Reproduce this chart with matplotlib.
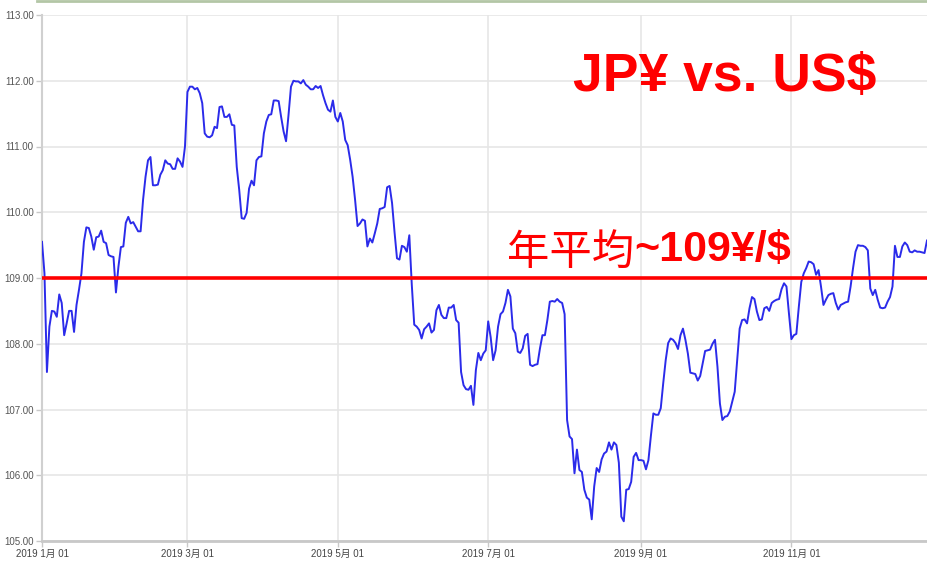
import pandas as pd
import matplotlib
matplotlib.use('Agg')
import matplotlib.pyplot as plt
from matplotlib.lines import Line2D

# Tipo de cambio diario JPY/USD 2019, un valor por día desde el 1 de enero
ene = [109.55, 109.07, 107.57, 108.26, 108.50, 108.49, 108.41, 108.75, 108.62, 108.13,
       108.31, 108.50, 108.50, 108.18, 108.59, 108.82, 109.07, 109.55, 109.77, 109.76,
       109.63, 109.43, 109.62, 109.63, 109.72, 109.55, 109.53, 109.35, 109.33, 109.32,
       108.78]
feb = [109.17, 109.47, 109.48, 109.84, 109.93, 109.83, 109.85, 109.78, 109.71, 109.71,
       110.19, 110.54, 110.79, 110.84, 110.41, 110.41, 110.42, 110.57, 110.64, 110.79,
       110.74, 110.73, 110.66, 110.66, 110.82, 110.77, 110.69, 111.00]
mar = [111.83, 111.91, 111.91, 111.87, 111.89, 111.81, 111.66, 111.20, 111.15, 111.14,
       111.17, 111.30, 111.28, 111.60, 111.61, 111.45, 111.45, 111.49, 111.33, 111.32,
       110.69, 110.34, 109.91, 109.90, 109.99, 110.36, 110.48, 110.41, 110.79, 110.84,
       110.85]
abr = [111.20, 111.38, 111.48, 111.49, 111.70, 111.70, 111.69, 111.45, 111.23, 111.08,
       111.48, 111.91, 112.00, 111.99, 111.99, 111.96, 112.01, 111.94, 111.91, 111.87,
       111.87, 111.92, 111.89, 111.92, 111.78, 111.66, 111.56, 111.53, 111.70, 111.45]
may = [111.38, 111.51, 111.38, 111.10, 111.02, 110.80, 110.54, 110.19, 109.79, 109.83,
       109.89, 109.87, 109.48, 109.60, 109.54, 109.68, 109.83, 110.05, 110.06, 110.08,
       110.38, 110.40, 110.14, 109.70, 109.30, 109.28, 109.49, 109.47, 109.40, 109.65,
       108.90]
jun = [108.29, 108.26, 108.21, 108.08, 108.22, 108.26, 108.31, 108.17, 108.21, 108.51,
       108.59, 108.44, 108.39, 108.39, 108.55, 108.55, 108.59, 108.36, 108.32, 107.57,
       107.37, 107.31, 107.30, 107.36, 107.07, 107.60, 107.86, 107.75, 107.85, 107.90]
jul = [108.34, 108.10, 107.75, 107.90, 108.26, 108.45, 108.49, 108.62, 108.82, 108.72,
       108.23, 108.16, 107.88, 107.86, 107.93, 108.12, 108.15, 107.68, 107.66, 107.68,
       107.69, 107.93, 108.13, 108.13, 108.36, 108.64, 108.65, 108.64, 108.68, 108.64,
       108.62]
ago = [108.45, 106.84, 106.59, 106.55, 106.03, 106.39, 106.08, 106.05, 105.78, 105.66,
       105.63, 105.33, 105.83, 106.11, 106.05, 106.24, 106.33, 106.36, 106.50, 106.39,
       106.50, 106.46, 106.19, 105.37, 105.30, 105.78, 105.79, 105.90, 106.28, 106.34,
       106.23]
sep = [106.23, 106.22, 106.09, 106.23, 106.60, 106.94, 106.92, 106.92, 107.02, 107.40,
       107.75, 108.01, 108.08, 108.06, 108.01, 107.92, 108.13, 108.23, 108.06, 107.85,
       107.56, 107.55, 107.54, 107.44, 107.51, 107.70, 107.89, 107.90, 107.91, 108.00]
oct_ = [108.06, 107.65, 107.09, 106.84, 106.89, 106.90, 106.97, 107.12, 107.27, 107.75,
        108.23, 108.36, 108.37, 108.31, 108.54, 108.71, 108.68, 108.49, 108.36, 108.37,
        108.54, 108.56, 108.50, 108.62, 108.65, 108.67, 108.68, 108.83, 108.92, 108.87,
        108.46]
nov = [108.07, 108.13, 108.15, 108.56, 108.94, 109.07, 109.15, 109.25, 109.24, 109.21,
       109.05, 109.12, 108.87, 108.59, 108.67, 108.74, 108.76, 108.77, 108.62, 108.52,
       108.59, 108.61, 108.63, 108.64, 108.87, 109.15, 109.40, 109.50, 109.49, 109.49]
dic = [109.47, 109.42, 108.84, 108.74, 108.82, 108.67, 108.55, 108.54, 108.55, 108.64,
       108.71, 108.87, 109.49, 109.32, 109.32, 109.48, 109.54, 109.50, 109.40, 109.39,
       109.42, 109.40, 109.40, 109.39, 109.38, 109.57]

fecha_inicio = '2019-01-01'
promedio_anual = 109.0

ticks_x = ['2019-01-01', '2019-03-01', '2019-05-01', '2019-07-01', '2019-09-01', '2019-11-01']
etiquetas_x = ['2019 1月 01', '2019 3月 01', '2019 5月 01', '2019 7月 01', '2019 9月 01', '2019 11月 01']
ticks_y = [105, 106, 107, 108, 109, 110, 111, 112, 113]

valores = ene + feb + mar + abr + may + jun + jul + ago + sep + oct_ + nov + dic
fechas = pd.date_range(fecha_inicio, periods=len(valores), freq='D')

fuente_ejes = ['Liberation Sans Narrow', 'Liberation Sans', 'Noto Sans CJK JP', 'DejaVu Sans']

fig = plt.figure(figsize=(9.27, 5.71), dpi=100)
ax = fig.add_axes([42 / 927, 30 / 571, 885 / 927, 526 / 571])

# Línea superior verde del recuadro original
fig.add_artist(Line2D([37 / 927, 1], [0.998, 0.998], color='#b3c6a6', lw=2,
                      transform=fig.transFigure))

ax.plot(fechas, valores, color='#2b2bea', lw=1.4, zorder=3)
ax.axhline(promedio_anual, color='#ff0000', lw=2.6, zorder=4)

ax.set_xlim(fechas[0], fechas[-1])
ax.set_ylim(105, 113)
ax.set_yticks(ticks_y)
ax.set_yticklabels(['%.2f' % v for v in ticks_y], family=fuente_ejes, fontsize=7, color='#555555')
ax.set_xticks(pd.to_datetime(ticks_x))
ax.set_xticklabels(etiquetas_x, family=fuente_ejes, fontsize=7, color='#444444')

ax.grid(True, color='#e6e6e6', lw=1.2)
ax.set_axisbelow(True)
for lado in ['top', 'right']:
    ax.spines[lado].set_visible(False)
ax.spines['left'].set_color('#d0d0d0')
ax.spines['left'].set_linewidth(1.5)
ax.spines['bottom'].set_color('#c8c8c8')
ax.spines['bottom'].set_linewidth(2)
ax.tick_params(axis='both', color='#c8c8c8', length=4, width=1, pad=2)

# Títulos en rojo
ax.text(0.600, 0.855, 'JP¥ vs. US$', transform=ax.transAxes, color='#ff0000',
        fontsize=38.5, fontweight='bold', family=['Liberation Sans', 'DejaVu Sans'])
t1 = ax.text(0.525, 0.525, '年平均', transform=ax.transAxes, color='#ff0000',
             fontsize=30.5, family=['Noto Sans CJK JP', 'DejaVu Sans'], va='baseline')
ax.annotate('~109¥/$', xy=(1, 0.12), xycoords=t1, color='#ff0000', fontsize=31,
            fontweight='bold', family=['Liberation Sans', 'DejaVu Sans'], va='bottom')

plt.savefig('out.png', dpi=100)
